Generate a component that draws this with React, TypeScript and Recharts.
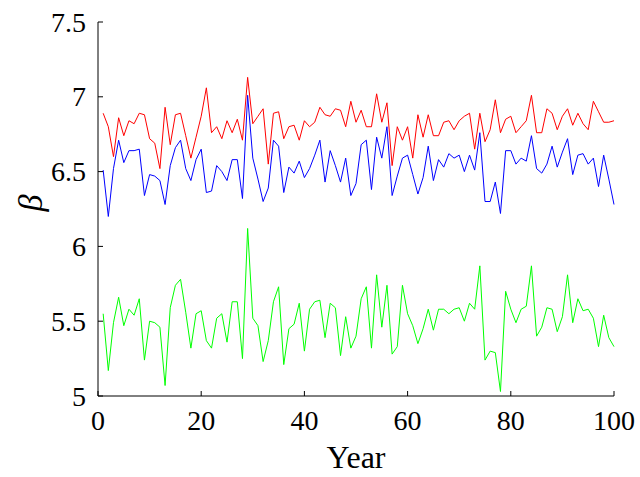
import { LineChart, Line, XAxis, YAxis } from "recharts"

// year index 1..100
const years = Array.from({ length: 100 }, (_, i) => i + 1)

const redBeta = [
  6.89, 6.8, 6.6, 6.86, 6.74, 6.84, 6.82, 6.89, 6.88, 6.72,
  6.69, 6.52, 6.93, 6.68, 6.88, 6.89, 6.74, 6.59, 6.73, 6.87,
  7.06, 6.76, 6.8, 6.72, 6.84, 6.76, 6.85, 6.71, 7.13, 6.82,
  6.87, 6.92, 6.55, 6.89, 6.9, 6.72, 6.8, 6.81, 6.71, 6.84,
  6.8, 6.83, 6.93, 6.88, 6.87, 6.92, 6.91, 6.8, 6.97, 6.83,
  6.91, 6.8, 6.8, 7.02, 6.83, 6.96, 6.54, 6.8, 6.71, 6.8,
  6.59, 6.88, 6.73, 6.88, 6.74, 6.74, 6.83, 6.84, 6.78, 6.84,
  6.87, 6.89, 6.65, 6.89, 6.7, 6.78, 6.98, 6.76, 6.85, 6.87,
  6.76, 6.8, 6.84, 7.01, 6.76, 6.76, 6.92, 6.89, 6.78, 6.87,
  6.92, 6.81, 6.89, 6.82, 6.78, 6.97, 6.9, 6.83, 6.83, 6.84,
]

const blueBeta = [
  6.51, 6.2, 6.52, 6.71, 6.56, 6.64, 6.64, 6.65, 6.34, 6.48,
  6.47, 6.44, 6.28, 6.54, 6.66, 6.71, 6.52, 6.44, 6.58, 6.65,
  6.36, 6.37, 6.54, 6.5, 6.44, 6.58, 6.58, 6.32, 7.01, 6.59,
  6.45, 6.3, 6.39, 6.71, 6.67, 6.36, 6.53, 6.49, 6.57, 6.46,
  6.52, 6.61, 6.71, 6.43, 6.64, 6.54, 6.43, 6.59, 6.34, 6.42,
  6.68, 6.71, 6.38, 6.73, 6.59, 6.8, 6.34, 6.47, 6.59, 6.61,
  6.48, 6.35, 6.46, 6.67, 6.44, 6.58, 6.53, 6.62, 6.59, 6.61,
  6.5, 6.61, 6.51, 6.76, 6.3, 6.3, 6.43, 6.22, 6.64, 6.64,
  6.55, 6.59, 6.57, 6.74, 6.52, 6.49, 6.55, 6.67, 6.53, 6.63,
  6.72, 6.48, 6.61, 6.62, 6.55, 6.59, 6.4, 6.61, 6.45, 6.28,
]

const greenBeta = [
  5.55, 5.17, 5.49, 5.66, 5.47, 5.58, 5.54, 5.65, 5.24, 5.5,
  5.49, 5.46, 5.07, 5.59, 5.74, 5.78, 5.56, 5.32, 5.55, 5.57,
  5.37, 5.32, 5.52, 5.55, 5.36, 5.63, 5.63, 5.25, 6.12, 5.52,
  5.47, 5.23, 5.37, 5.63, 5.73, 5.21, 5.45, 5.48, 5.62, 5.3,
  5.58, 5.63, 5.64, 5.39, 5.62, 5.59, 5.27, 5.53, 5.32, 5.4,
  5.65, 5.73, 5.32, 5.81, 5.46, 5.74, 5.28, 5.33, 5.74, 5.55,
  5.47, 5.35, 5.45, 5.58, 5.44, 5.58, 5.58, 5.55, 5.58, 5.59,
  5.5, 5.62, 5.58, 5.87, 5.24, 5.3, 5.29, 5.03, 5.7, 5.58,
  5.49, 5.58, 5.6, 5.87, 5.4, 5.46, 5.59, 5.58, 5.43, 5.53,
  5.81, 5.49, 5.65, 5.57, 5.58, 5.52, 5.33, 5.54, 5.39, 5.33,
]

const xTicks = [0, 20, 40, 60, 80, 100]
const yTicks = [5, 5.5, 6, 6.5, 7, 7.5]

const data = years.map((year, i) => ({
  year,
  red: redBeta[i],
  blue: blueBeta[i],
  green: greenBeta[i],
}))

const FONT = "'Liberation Serif', 'Times New Roman', serif"

// ticks point into the plot, like matlab
const XTick = ({ x, y, payload }: any) => (
  <g>
    <line x1={x} x2={x} y1={y} y2={y - 5} stroke="#000" />
    <text x={x} y={y + 34} textAnchor="middle" fontFamily={FONT} fontSize={28} fill="#000">
      {payload.value}
    </text>
  </g>
)

const YTick = ({ x, y, payload }: any) => (
  <g>
    <line x1={x} x2={x + 5} y1={y} y2={y} stroke="#000" />
    <text x={x - 12} y={y + 9.5} textAnchor="end" fontFamily={FONT} fontSize={28} fill="#000">
      {payload.value}
    </text>
  </g>
)

const BetaLabel = ({ viewBox }: any) => {
  const cx = viewBox.x + 30
  const cy = viewBox.y + viewBox.height / 2 - 6
  return (
    <text
      x={cx}
      y={cy}
      transform={`rotate(-90 ${cx} ${cy})`}
      textAnchor="middle"
      dominantBaseline="central"
      fontFamily={FONT}
      fontStyle="italic"
      fontSize={34}
      fill="#000"
    >
      β
    </text>
  )
}

export default function App() {
  return (
    <div style={{ position: "absolute", left: 0, top: 0, width: 640, height: 477, background: "#fff" }}>
      <LineChart width={640} height={477} data={data} margin={{ top: 22, right: 26, left: 0, bottom: 0 }}>
        <XAxis
          dataKey="year"
          type="number"
          domain={[0, 100]}
          ticks={xTicks}
          height={81}
          tickSize={0}
          tickMargin={0}
          tick={<XTick />}
          axisLine={{ stroke: "#000" }}
          label={{ value: "Year", position: "insideBottom", offset: 9, fontFamily: FONT, fontSize: 32, fill: "#000" }}
        />
        <YAxis
          type="number"
          domain={[5, 7.5]}
          ticks={yTicks}
          width={98}
          tickSize={0}
          tickMargin={0}
          tick={<YTick />}
          axisLine={{ stroke: "#000" }}
          allowDataOverflow
          label={<BetaLabel />}
        />
        <Line dataKey="red" stroke="#ff0000" strokeWidth={1} dot={false} isAnimationActive={false} />
        <Line dataKey="blue" stroke="#0000ff" strokeWidth={1} dot={false} isAnimationActive={false} />
        <Line dataKey="green" stroke="#00ff00" strokeWidth={1} dot={false} isAnimationActive={false} />
      </LineChart>
    </div>
  )
}
